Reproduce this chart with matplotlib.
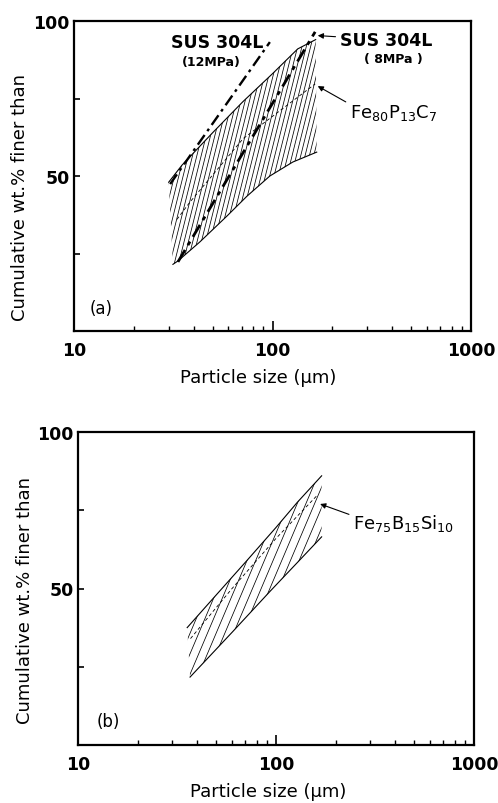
import numpy as np
import matplotlib
matplotlib.use("Agg")
import matplotlib.pyplot as plt
from matplotlib.patches import Polygon
from matplotlib.collections import LineCollection
from matplotlib.ticker import FixedLocator, LogLocator, NullFormatter, FixedFormatter

plt.rcParams['font.family'] = ['DejaVu Sans']
plt.rcParams['mathtext.default'] = 'regular'

# ---- panel (a) data: Fe80P13C7 band + SUS 304L lines
a_upper_x = [30, 35, 50, 71, 100, 134, 165]
a_upper_y = [48, 53.5, 64, 74, 83, 91, 94]
a_lower_x = [31.5, 33.4, 43, 59, 74.4, 97, 126.5, 167]
a_lower_y = [21.5, 22.6, 28.7, 37.1, 43.5, 50, 54.5, 57.7]
a_mean_x = [33, 38.4, 71, 164]
a_mean_y = [36, 41.6, 62, 79.7]
sus12_x = [30.5, 97]
sus12_y = [47.4, 93.2]
sus8_x = [33.4, 164]
sus8_y = [22.3, 96.5]

# ---- panel (b) data: Fe75B15Si10 band
b_upper_x = [35.6, 50, 71, 100, 128, 170]
b_upper_y = [37.5, 48, 58.8, 69.5, 77.5, 86]
b_lower_x = [36.8, 60, 93, 130, 170]
b_lower_y = [21.7, 36, 49, 58.7, 66.5]
b_mean_x = [37, 60, 100, 160]
b_mean_y = [34, 50, 66, 79.5]

yticks = [25, 50, 75, 100]
ytick_labels = ['', '50', '', '100']
xticks = [10, 100, 1000]
xtick_labels = ['10', '100', '1000']

fig = plt.figure(figsize=(4.98, 8.04), dpi=100)
ax_a = fig.add_axes([74/498, 1-332/804, 397/498, 310/804])
ax_b = fig.add_axes([78/498, 1-746/804, 396/498, 313/804])


def setup(ax, lab_xy, ylab_xy):
    ax.set_xscale('log')
    ax.set_xlim(10, 1000)
    ax.set_ylim(0, 100)
    ax.xaxis.set_major_locator(FixedLocator(xticks))
    ax.xaxis.set_major_formatter(FixedFormatter(xtick_labels))
    ax.xaxis.set_minor_locator(LogLocator(base=10, subs=np.arange(2, 10)))
    ax.xaxis.set_minor_formatter(NullFormatter())
    ax.yaxis.set_major_locator(FixedLocator(yticks))
    ax.yaxis.set_major_formatter(FixedFormatter(ytick_labels))
    ax.tick_params(axis='x', which='major', direction='in', length=7, width=1.2,
                   pad=7, labelsize=12.5)
    ax.tick_params(axis='x', which='minor', direction='in', length=3.5, width=1.0)
    ax.tick_params(axis='y', which='major', direction='in', length=4, width=1.2,
                   pad=3, labelsize=12.5)
    for lbl in ax.get_xticklabels() + ax.get_yticklabels():
        lbl.set_fontweight('bold')
    for s in ax.spines.values():
        s.set_linewidth(1.6)
    ax.set_xlabel('Particle size (μm)', fontsize=13)
    ax.set_ylabel('Cumulative wt.% finer than', fontsize=13)
    ax.xaxis.set_label_coords(*lab_xy)
    ax.yaxis.set_label_coords(*ylab_xy)


def band(ax, ux, uy, lx, ly, mx, my, spacing_px, angle_deg):
    verts = list(zip(ux, uy)) + list(zip(lx[::-1], ly[::-1]))
    poly = Polygon(verts, closed=True, transform=ax.transData,
                   facecolor='none', edgecolor='none')
    ax.add_patch(poly)
    # steep hatch texture, clipped to the band
    fig.canvas.draw()
    bb = ax.get_window_extent()
    w, h = bb.width, bb.height
    th = np.radians(angle_deg)
    dx = spacing_px / np.sin(th) / w
    shift = h / np.tan(th) / w
    segs = [[(x0, 0), (x0 + shift, 1)] for x0 in np.arange(-1, 2, dx)]
    lc = LineCollection(segs, colors='k', linewidths=0.55, transform=ax.transAxes)
    ax.add_collection(lc)
    lc.set_clip_path(poly)
    ax.plot(ux, uy, color='k', lw=0.8)
    ax.plot(lx, ly, color='k', lw=0.8)
    ax.plot(mx, my, color='k', lw=0.6, dashes=(4, 3))


setup(ax_a, (0.463, -0.118), (-0.113, 0.435))
setup(ax_b, (0.481, -0.118), (-0.111, 0.466))

band(ax_a, a_upper_x, a_upper_y, a_lower_x, a_lower_y, a_mean_x, a_mean_y, 4.2, 76)
ax_a.plot(sus12_x, sus12_y, color='k', lw=1.7, dashes=(5, 2, 1.2, 2))
ax_a.plot(sus8_x, sus8_y, color='k', lw=2.0, dashes=(5, 2, 1.5, 2))

band(ax_b, b_upper_x, b_upper_y, b_lower_x, b_lower_y, b_mean_x, b_mean_y, 8.0, 67)

arw = dict(arrowstyle='-|>', lw=0.8, color='k', mutation_scale=8,
           shrinkA=1, shrinkB=0)

ax_a.text(52.5, 93.2, 'SUS 304L', ha='center', va='center',
          fontsize=12.5, fontweight='bold')
ax_a.text(49, 87, '(12MPa)', ha='center', va='center',
          fontsize=9, fontweight='bold')
ax_a.annotate('SUS 304L', xy=(169, 95.3), xytext=(218, 93.9),
              ha='left', va='center', fontsize=12.5, fontweight='bold',
              arrowprops=arw)
ax_a.text(405, 88, '( 8MPa )', ha='center', va='center',
          fontsize=9, fontweight='bold')
ax_a.annotate(r'Fe$_{80}$P$_{13}$C$_7$', xy=(169, 79), xytext=(245, 70.6),
              ha='left', va='center', fontsize=13,
              arrowprops=dict(arw, relpos=(0, 0.9)))
ax_a.text(13.7, 7.5, '(a)', ha='center', va='center', fontsize=12)

ax_b.annotate(r'Fe$_{75}$B$_{15}$Si$_{10}$', xy=(167, 77), xytext=(245, 71.2),
              ha='left', va='center', fontsize=13,
              arrowprops=dict(arw, relpos=(0, 0.8)))
ax_b.text(14.2, 7.7, '(b)', ha='center', va='center', fontsize=12)

fig.savefig('out.png', dpi=100)
